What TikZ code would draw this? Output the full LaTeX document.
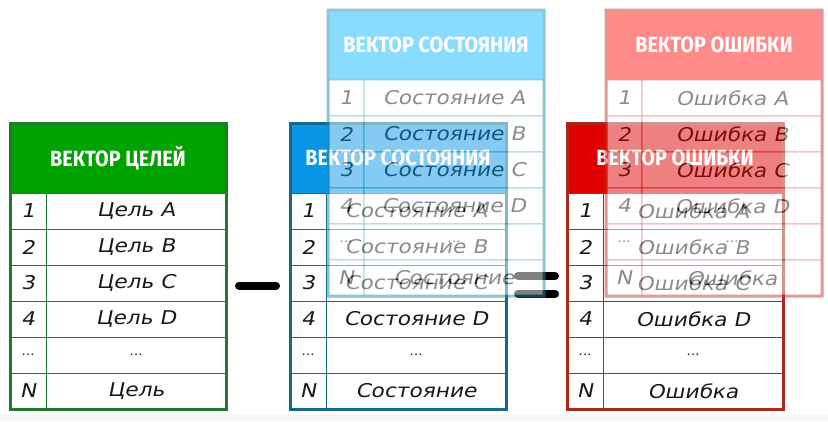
\documentclass[tikz,border=0pt]{standalone}
\usepackage{fontspec}
\newfontfamily\headfont[FakeStretch=0.9]{Fira Sans}
\newfontfamily\bodyfont[FakeSlant=0.2, FakeStretch=1.14]{DejaVu Sans}
\usetikzlibrary{positioning}

\definecolor{goalfill}{HTML}{00A300}
\definecolor{goalline}{HTML}{1F7A30}
\definecolor{statefill}{HTML}{0A96E6}
\definecolor{stateline}{HTML}{12698A}
\definecolor{errfill}{HTML}{E00000}
\definecolor{errline}{HTML}{A52A1C}
\definecolor{gstatefill}{RGB}{21,185,255}
\definecolor{gstateline}{HTML}{1B8DB5}
\definecolor{gerrfill}{RGB}{255,21,21}
\definecolor{gerrline}{HTML}{C8322A}

\newcommand\skipdots{{\fontsize{12}{12}\selectfont ...}}

\tikzset{
  head/.style={minimum width=216pt, minimum height=70pt, inner sep=0pt, outer sep=0pt,
    line width=0.8pt, text=white, font=\headfont\bfseries\fontsize{22}{22}\selectfont},
  cell/.style={minimum height=36pt, inner sep=0pt, outer sep=0pt, line width=0.7pt,
    fill=white, text=black!90, font=\bodyfont\fontsize{19}{19}\selectfont},
  numcell/.style={cell, minimum width=36pt},
  txtcell/.style={cell, minimum width=180pt},
  frame/.style={line width=3pt},
  op/.style={line width=8pt, line cap=round},
}

% #1 name, #2 top left, #3 header fill, #4 lines, #5 title, #6 word
\newcommand\vectable[6]{%
  \node[head, fill=#3, draw=#4, anchor=north west] (#1-h) at #2 {#5};
  \coordinate (#1-r0) at (#1-h.south west);
  \foreach \i/\n/\t [remember=\i as \j (initially 0)] in
      {1/1/#6 A, 2/2/#6 B, 3/3/#6 C, 4/4/#6 D, 5/\skipdots/\skipdots, 6/N/#6} {
    \node[numcell, draw=#4, below right=0pt of #1-r\j] (#1-n\i) {\n};
    \node[txtcell, draw=#4, right=0pt of #1-n\i] (#1-t\i) {\t};
    \coordinate (#1-r\i) at (#1-n\i.south west);
  }
  \draw[frame, #4] (#1-h.north west) rectangle (#1-t6.south east);
}

\begin{document}
\begin{tikzpicture}[x=1pt, y=-1pt]
\useasboundingbox (0,0) rectangle (828,421);
\fill[black!4] (0,415) rectangle (828,421);

\vectable{goal}{(10,123)}{goalfill}{goalline}{ВЕКТОР ЦЕЛЕЙ}{Цель}
\vectable{state}{(290,123)}{statefill}{stateline}{ВЕКТОР СОСТОЯНИЯ}{Состояние}
\vectable{err}{(567,123)}{errfill}{errline}{ВЕКТОР ОШИБКИ}{Ошибка}

% minus and equals
\draw[op] (239,285.5) -- (276,285.5);
\draw[op] (518,276) -- (555,276);
\draw[op] (518,293.5) -- (555,293.5);

% faded copies on top
\begin{scope}[transparency group, opacity=0.5]
\vectable{gstate}{(328,10)}{gstatefill}{gstateline}{ВЕКТОР СОСТОЯНИЯ}{Состояние}
\end{scope}
\begin{scope}[transparency group, opacity=0.5]
\vectable{gerr}{(606,10)}{gerrfill}{gerrline}{ВЕКТОР ОШИБКИ}{Ошибка}
\end{scope}
\end{tikzpicture}
\end{document}
